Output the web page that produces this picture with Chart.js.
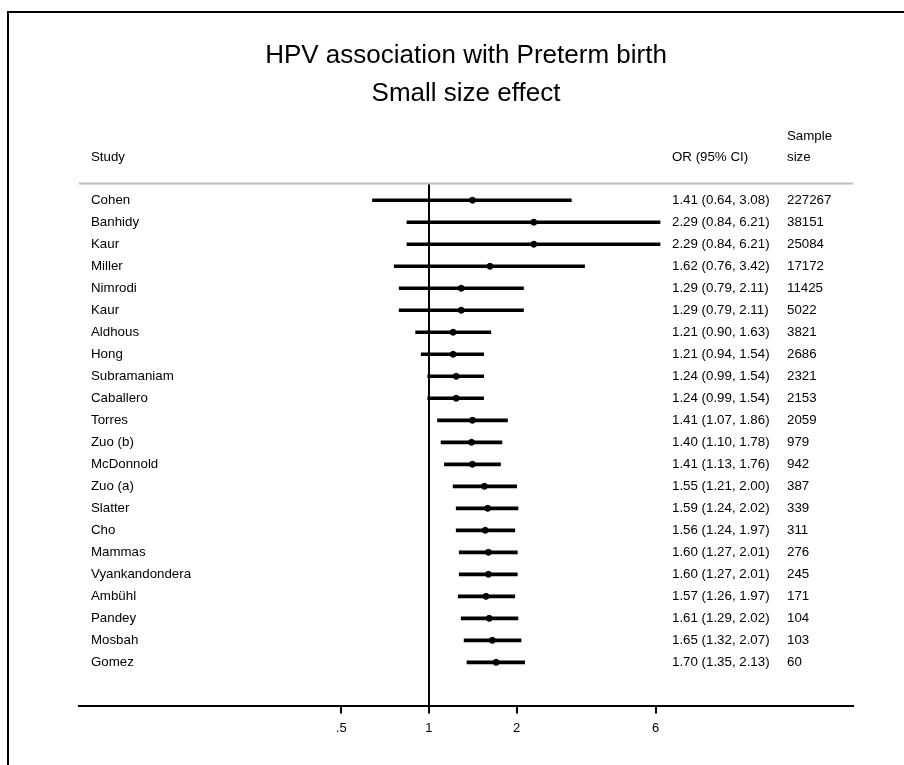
<!DOCTYPE html>
<html>
<head>
<meta charset="utf-8">
<script src="https://cdn.jsdelivr.net/npm/chart.js@4.4.1/dist/chart.umd.min.js"></script>
<style>
  html, body { margin: 0; padding: 0; background: #fff; }
  #wrap { width: 904px; height: 765px; position: relative; }
</style>
</head>
<body>
<div id="wrap"><canvas id="forest"></canvas></div>
<script>
// study rows, top to bottom
const studies = ['Cohen', 'Banhidy', 'Kaur', 'Miller', 'Nimrodi', 'Kaur', 'Aldhous', 'Hong',
    'Subramaniam', 'Caballero', 'Torres', 'Zuo (b)', 'McDonnold', 'Zuo (a)', 'Slatter', 'Cho',
    'Mammas', 'Vyankandondera', 'Ambühl', 'Pandey', 'Mosbah', 'Gomez'];
const oddsRatios = [1.41, 2.29, 2.29, 1.62, 1.29, 1.29, 1.21, 1.21, 1.24, 1.24, 1.41, 1.40,
    1.41, 1.55, 1.59, 1.56, 1.60, 1.60, 1.57, 1.61, 1.65, 1.70];
const ciLow = [0.64, 0.84, 0.84, 0.76, 0.79, 0.79, 0.90, 0.94, 0.99, 0.99, 1.07, 1.10,
    1.13, 1.21, 1.24, 1.24, 1.27, 1.27, 1.26, 1.29, 1.32, 1.35];
const ciHigh = [3.08, 6.21, 6.21, 3.42, 2.11, 2.11, 1.63, 1.54, 1.54, 1.54, 1.86, 1.78,
    1.76, 2.00, 2.02, 1.97, 2.01, 2.01, 1.97, 2.02, 2.07, 2.13];
const sampleSizes = [227267, 38151, 25084, 17172, 11425, 5022, 3821, 2686, 2321, 2153, 2059,
    979, 942, 387, 339, 311, 276, 245, 171, 104, 103, 60];
const xTicks = [0.5, 1, 2, 6];

const FONT = '"Liberation Sans", Arial, Helvetica, sans-serif';

const ciData = studies.map((s, i) => ({ x: [ciLow[i], ciHigh[i]], y: i }));
const pointData = studies.map((s, i) => ({ x: oddsRatios[i], y: i }));

// text columns, header rule and frame
const forestText = {
    id: 'forestText',
    beforeDatasetsDraw(chart) {
        const { ctx, chartArea } = chart;
        ctx.save();
        ctx.strokeStyle = '#bdbdbd';
        ctx.lineWidth = 2;
        ctx.beginPath();
        ctx.moveTo(chartArea.left, chartArea.top);
        ctx.lineTo(chartArea.right, chartArea.top);
        ctx.stroke();
        ctx.restore();
    },
    afterDraw(chart) {
        const { ctx } = chart;
        const y = chart.scales.y;
        ctx.save();
        // frame
        ctx.strokeStyle = '#000';
        ctx.lineWidth = 2;
        ctx.beginPath();
        ctx.moveTo(8, 765);
        ctx.lineTo(8, 12);
        ctx.lineTo(904, 12);
        ctx.stroke();

        ctx.fillStyle = '#000';
        ctx.font = '13.3px ' + FONT;
        ctx.textBaseline = 'middle';
        ctx.textAlign = 'left';
        ctx.fillText('Study', 91, 157);
        ctx.fillText('OR (95% CI)', 672, 157);
        ctx.fillText('Sample', 787, 136);
        ctx.fillText('size', 787, 157);
        studies.forEach((name, i) => {
            const py = y.getPixelForValue(i);
            ctx.fillText(name, 91, py);
            ctx.fillText(oddsRatios[i].toFixed(2) + ' (' + ciLow[i].toFixed(2) + ', ' +
                ciHigh[i].toFixed(2) + ')', 672, py);
            ctx.fillText(String(sampleSizes[i]), 787, py);
        });
        ctx.restore();
    }
};

new Chart(document.getElementById('forest'), {
    data: {
        datasets: [{
            type: 'bar',
            data: ciData,
            backgroundColor: '#000',
            borderWidth: 0,
            barThickness: 3,
            indexAxis: 'y'
        }, {
            type: 'scatter',
            data: pointData,
            backgroundColor: '#000',
            borderColor: '#000',
            pointRadius: 3,
            pointHoverRadius: 3
        }]
    },
    options: {
        responsive: true,
        maintainAspectRatio: false,
        animation: false,
        indexAxis: 'y',
        layout: { padding: { top: 12, left: 79, right: 51, bottom: 0 } },
        plugins: {
            legend: { display: false },
            tooltip: { enabled: false },
            title: {
                display: true,
                text: ['HPV association with Preterm birth', 'Small size effect'],
                color: '#000',
                font: { family: FONT, size: 26, weight: 'normal', lineHeight: 1.46 },
                padding: { top: 25, bottom: 70.5 }
            }
        },
        scales: {
            x: {
                type: 'logarithmic',
                min: 0.0629,
                max: 28.54,
                bounds: 'data',
                offset: false,
                afterBuildTicks: (scale) => { scale.ticks = xTicks.map(v => ({ value: v })); },
                afterFit: (scale) => { scale.height = 59.5; },
                border: { display: true, color: '#000', width: 2 },
                grid: {
                    color: ctx => (ctx.tick && ctx.tick.value === 1) ? '#000' : 'rgba(0,0,0,0)',
                    tickColor: '#000',
                    lineWidth: 2,
                    tickLength: 8
                },
                ticks: {
                    color: '#000',
                    padding: 7,
                    autoSkip: false,
                    maxRotation: 0,
                    font: { family: FONT, size: 13 },
                    callback: v => v === 0.5 ? '.5' : String(v)
                }
            },
            y: {
                type: 'linear',
                display: false,
                reverse: true,
                offset: false,
                grace: 0,
                min: -0.764,
                max: 22.96
            }
        }
    },
    plugins: [forestText]
});
</script>
</body>
</html>
